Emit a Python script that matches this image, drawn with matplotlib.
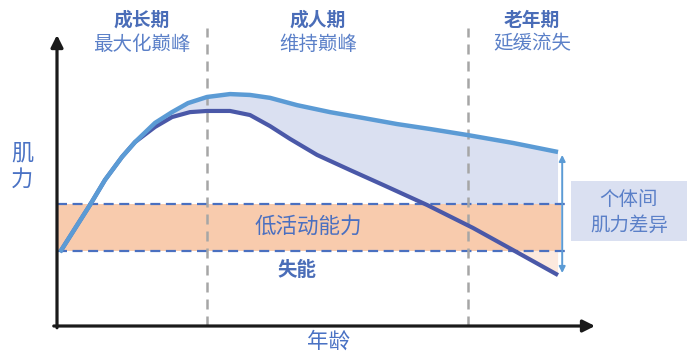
import matplotlib
matplotlib.use("Agg")
import matplotlib.pyplot as plt
from matplotlib.patches import Rectangle, Polygon
import numpy as np

plt.rcParams['font.family'] = ['Noto Sans CJK SC', 'DejaVu Sans']

# ---- data (age 0-100, strength 0-100) ----
shared_x = [0.56, 6.13, 8.92, 12.08, 14.50]
shared_y = [25.4, 41.6, 50.2, 58.1, 63.2]
upper_x = [14.50, 18.22, 21.38, 24.35, 27.88, 32.16, 35.87, 39.59, 44.61,
           50.74, 56.88, 63.20, 69.33, 76.39, 84.76, 93.12]
upper_y = [63.2, 69.8, 73.5, 76.6, 78.7, 79.7, 79.4, 78.4, 75.9,
           73.5, 71.5, 69.4, 67.7, 65.6, 62.9, 59.8]
lower_x = [14.50, 18.22, 21.38, 24.72, 27.88, 32.16, 35.87, 39.59, 43.31, 48.33,
           54.46, 60.59, 68.77, 77.32, 84.76, 93.12]
lower_y = [63.2, 68.4, 71.8, 73.5, 73.9, 73.9, 72.5, 68.7, 64.3, 58.8,
           53.6, 48.5, 41.6, 33.7, 26.1, 17.5]
band_low, band_high = 25.8, 41.9
phase_bounds = [27.9, 76.4]
phase_titles = ["成长期", "成人期", "老年期"]
phase_subtitles = ["最大化巅峰", "维持巅峰", "延缓流失"]
phase_centers = [15.8, 48.5, 88.3]

C_UP = '#5b9bd5'
C_LO = '#4a58a8'
C_FILL = '#dae0f1'
C_BAND = '#f8cbad'
C_DASH = '#4a70c0'
C_TXT = '#4a6db8'
C_SUB = '#5b80c8'

fig = plt.figure(figsize=(6.98, 3.62), dpi=100)
ax = fig.add_axes([0, 0, 1, 1])
ax.set_xlim(-10.595, 119.14)
ax.set_ylim(-12.37, 112.03)
ax.axis('off')

# lavender fill between curves
poly_pts = np.column_stack([upper_x + lower_x[::-1], upper_y + lower_y[::-1]])
ax.add_patch(Polygon(poly_pts, closed=True, facecolor=C_FILL, edgecolor='none', zorder=1))
peach = Polygon(poly_pts, closed=True, facecolor='#fce9de', edgecolor='none', zorder=2)
ax.add_patch(peach)
clip = Rectangle((0, 0), 100, band_low, transform=ax.transData)
peach.set_clip_path(clip)

# band
ax.add_patch(Rectangle((0, band_low), 93.7, band_high - band_low, facecolor=C_BAND,
                       edgecolor='none', zorder=2))
for yv in (band_low, band_high):
    ax.plot([0, 95.4], [yv, yv], color=C_DASH, lw=1.6, ls=(0, (4.5, 2.5)), zorder=3)

# phase boundaries
for xv in phase_bounds:
    ax.plot([xv, xv], [0, 102.4], color='#a6a6a6', lw=1.8, ls=(0, (4, 2.8)), zorder=3)

# curves
ax.plot(shared_x + lower_x[1:], shared_y + lower_y[1:], color=C_LO, lw=3,
        solid_capstyle='butt', solid_joinstyle='round', zorder=4)
ax.plot(shared_x + upper_x[1:], shared_y + upper_y[1:], color=C_UP, lw=3.2,
        solid_capstyle='butt', solid_joinstyle='round', zorder=5)

# axes arrows
ax.annotate('', xy=(100, 0), xytext=(-0.6, 0),
            arrowprops=dict(arrowstyle='-|>', lw=2.3, color='#1a1a1a',
                            mutation_scale=18, shrinkA=0, shrinkB=0), zorder=6)
ax.annotate('', xy=(0, 100), xytext=(0, -0.6),
            arrowprops=dict(arrowstyle='-|>', lw=2.3, color='#1a1a1a',
                            mutation_scale=18, shrinkA=0, shrinkB=0), zorder=6)

# variability arrow
ax.annotate('', xy=(93.9, 18.2), xytext=(93.9, 58.8),
            arrowprops=dict(arrowstyle='<|-|>', lw=1.4, color=C_UP,
                            mutation_scale=9, shrinkA=0, shrinkB=0), zorder=6)

# box
ax.add_patch(Rectangle((95.5, 29.2), 21.6, 20.6, facecolor='#dae0f1', edgecolor='none', zorder=2))
ax.text(106.3, 43.6, "个体间", ha='center', va='center', fontsize=14, color=C_SUB, zorder=7)
ax.text(106.3, 34.7, "肌力差异", ha='center', va='center', fontsize=14, color=C_SUB, zorder=7)

# phase labels
for cx, t, s in zip(phase_centers, phase_titles, phase_subtitles):
    ax.text(cx, 105.0, t, ha='center', va='center', fontsize=13.5, fontweight='bold', color=C_TXT)
    ax.text(cx, 96.9, s, ha='center', va='center', fontsize=14, color=C_SUB)

ax.text(46.7, 34.0, "低活动能力", ha='center', va='center', fontsize=15.5, color='#4a6fc0', zorder=7)
ax.text(44.6, 19.2, "失能", ha='center', va='center', fontsize=14, fontweight='bold', color=C_TXT, zorder=7)
ax.text(-6.5, 55.0, "肌\n力", ha='center', va='center', fontsize=16, color='#4a72c4', linespacing=1.2)
ax.text(50.4, -5.5, "年龄", ha='center', va='center', fontsize=15.5, color='#4a72c4')

fig.savefig('out.png', dpi=100)
